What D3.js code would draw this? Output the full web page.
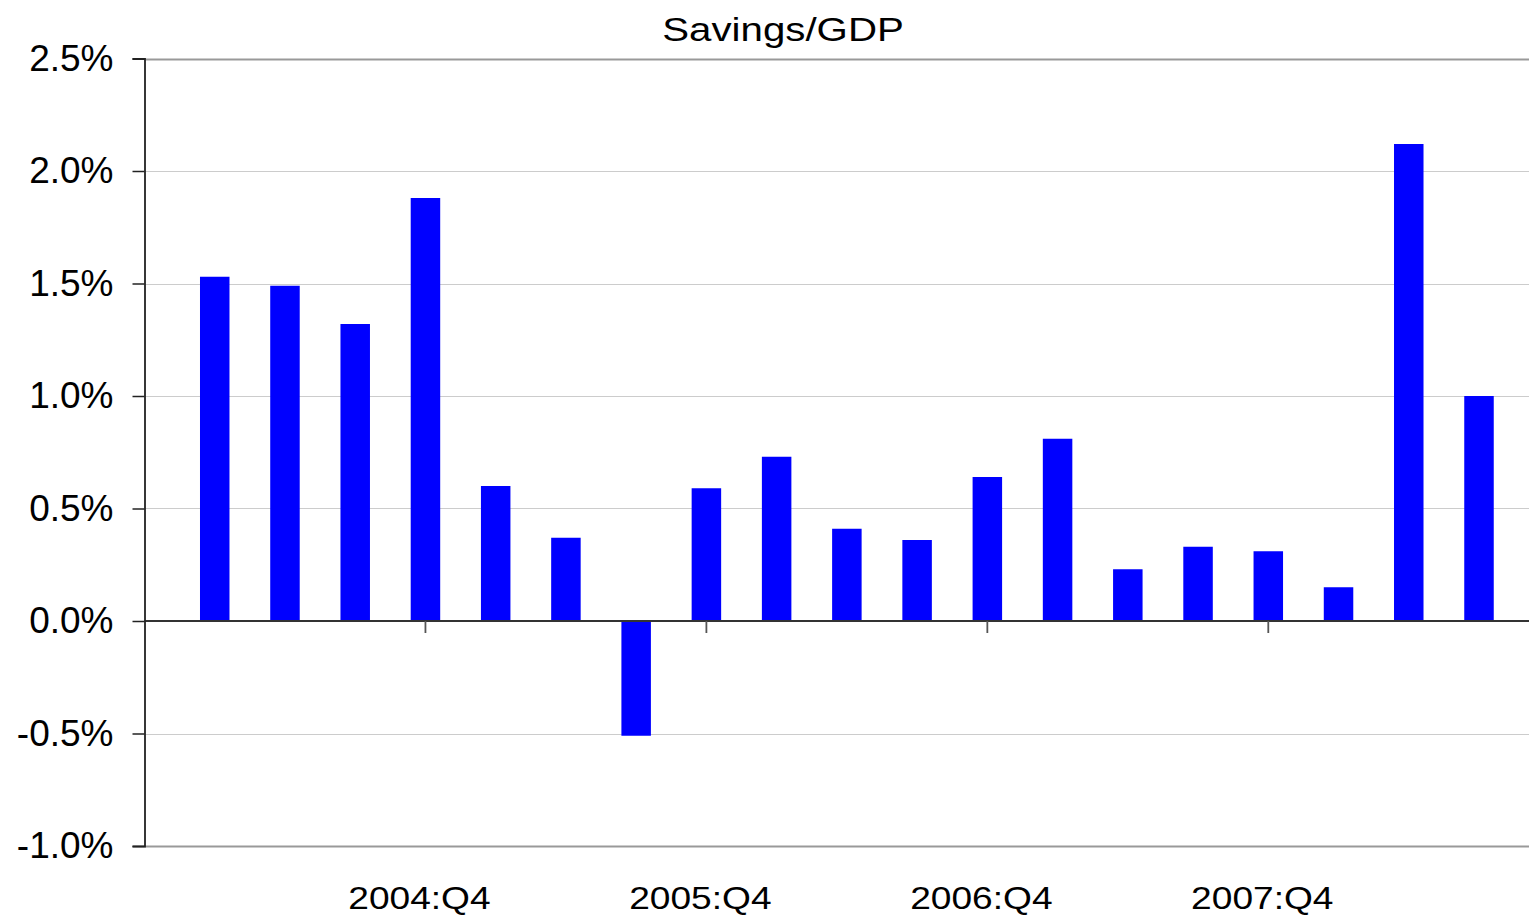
<!DOCTYPE html>
<html>
<head>
<meta charset="utf-8">
<script src="https://cdn.jsdelivr.net/npm/d3@7"></script>
<style>
  html, body { margin: 0; padding: 0; background: #fff; }
  svg { display: block; }
  text { font-family: "Liberation Sans", Arial, sans-serif; fill: #000; }
</style>
</head>
<body>
<svg id="chart" width="1529" height="918"></svg>
<script>
// ---- data ----
const categories = ["2004:Q1","2004:Q2","2004:Q3","2004:Q4",
                    "2005:Q1","2005:Q2","2005:Q3","2005:Q4",
                    "2006:Q1","2006:Q2","2006:Q3","2006:Q4",
                    "2007:Q1","2007:Q2","2007:Q3","2007:Q4",
                    "2008:Q1","2008:Q2","2008:Q3"];
const values = [1.53, 1.49, 1.32, 1.88,
                0.60, 0.37, -0.51, 0.59,
                0.73, 0.41, 0.36, 0.64,
                0.81, 0.23, 0.33, 0.31,
                0.15, 2.12, 1.00];
const yTicks = [-1.0, -0.5, 0.0, 0.5, 1.0, 1.5, 2.0, 2.5];
const xTickLabels = ["2004:Q4", "2005:Q4", "2006:Q4", "2007:Q4"];
const chartTitle = "Savings/GDP";

// ---- layout ----
(function () {
const svg = d3.select("#chart");
const W = 1529;
const mLeft = 144.5, mTop = 58.5, mBottom = 846;

const x = d3.scaleLinear().domain([0, categories.length]).range([mLeft, 1479]);
const y = d3.scaleLinear().domain([-1.0, 2.5]).range([mBottom, mTop]);
const barW = 29.5;

// gridlines
svg.append("g").selectAll("line")
  .data(yTicks.filter(d => d !== 0))
  .join("line")
  .attr("x1", mLeft).attr("x2", W)
  .attr("y1", d => Math.round(y(d)) + 0.5).attr("y2", d => Math.round(y(d)) + 0.5)
  .attr("stroke", d => (d === 2.5 || d === -1.0) ? "#999" : "#cccccc")
  .attr("stroke-width", d => (d === 2.5 || d === -1.0) ? 2 : 1);

// bars
svg.append("g").selectAll("rect")
  .data(values)
  .join("rect")
  .attr("x", (d, i) => x(i + 1) - barW / 2)
  .attr("width", barW)
  .attr("y", d => y(Math.max(0, d)))
  .attr("height", d => Math.abs(y(d) - y(0)))
  .attr("fill", "#0000ff");

// zero line
svg.append("line")
  .attr("x1", mLeft).attr("x2", W)
  .attr("y1", y(0)).attr("y2", y(0))
  .attr("stroke", "#333").attr("stroke-width", 1.8);

// x ticks (every 4th category, at Q4)
const xTickIdx = xTickLabels.map(l => categories.indexOf(l) + 1);
svg.append("g").selectAll("line")
  .data(xTickIdx)
  .join("line")
  .attr("x1", d => x(d)).attr("x2", d => x(d))
  .attr("y1", y(0)).attr("y2", y(0) + 12)
  .attr("stroke", "#555").attr("stroke-width", 1.8);

// y axis
const yAxis = d3.axisLeft(y).tickValues(yTicks)
  .tickFormat(d => d3.format(".1f")(d).replace("\u2212", "-") + "%")
  .tickSize(12).tickPadding(19);
const gy = svg.append("g").attr("transform", `translate(${mLeft},0)`).call(yAxis);
gy.select(".domain").attr("stroke", "#222").attr("stroke-width", 1.8);
gy.selectAll(".tick line").attr("stroke", "#222").attr("stroke-width", 1.5);
gy.selectAll(".tick text")
  .style("font-family", "'Liberation Sans', Arial, sans-serif")
  .style("font-size", "37px").attr("fill", "#000");

// x labels
svg.append("g").selectAll("text")
  .data(xTickLabels)
  .join("text")
  .attr("text-anchor", "middle")
  .attr("transform", (d, i) => `translate(${x(xTickIdx[i]) - 6},909) scale(1.16,1)`)
  .style("font-size", "32px")
  .text(d => d);

// title
svg.append("text")
  .attr("text-anchor", "middle")
  .attr("transform", `translate(783,41) scale(1.22,1)`)
  .style("font-size", "33px")
  .text(chartTitle);
})();
</script>
</body>
</html>
